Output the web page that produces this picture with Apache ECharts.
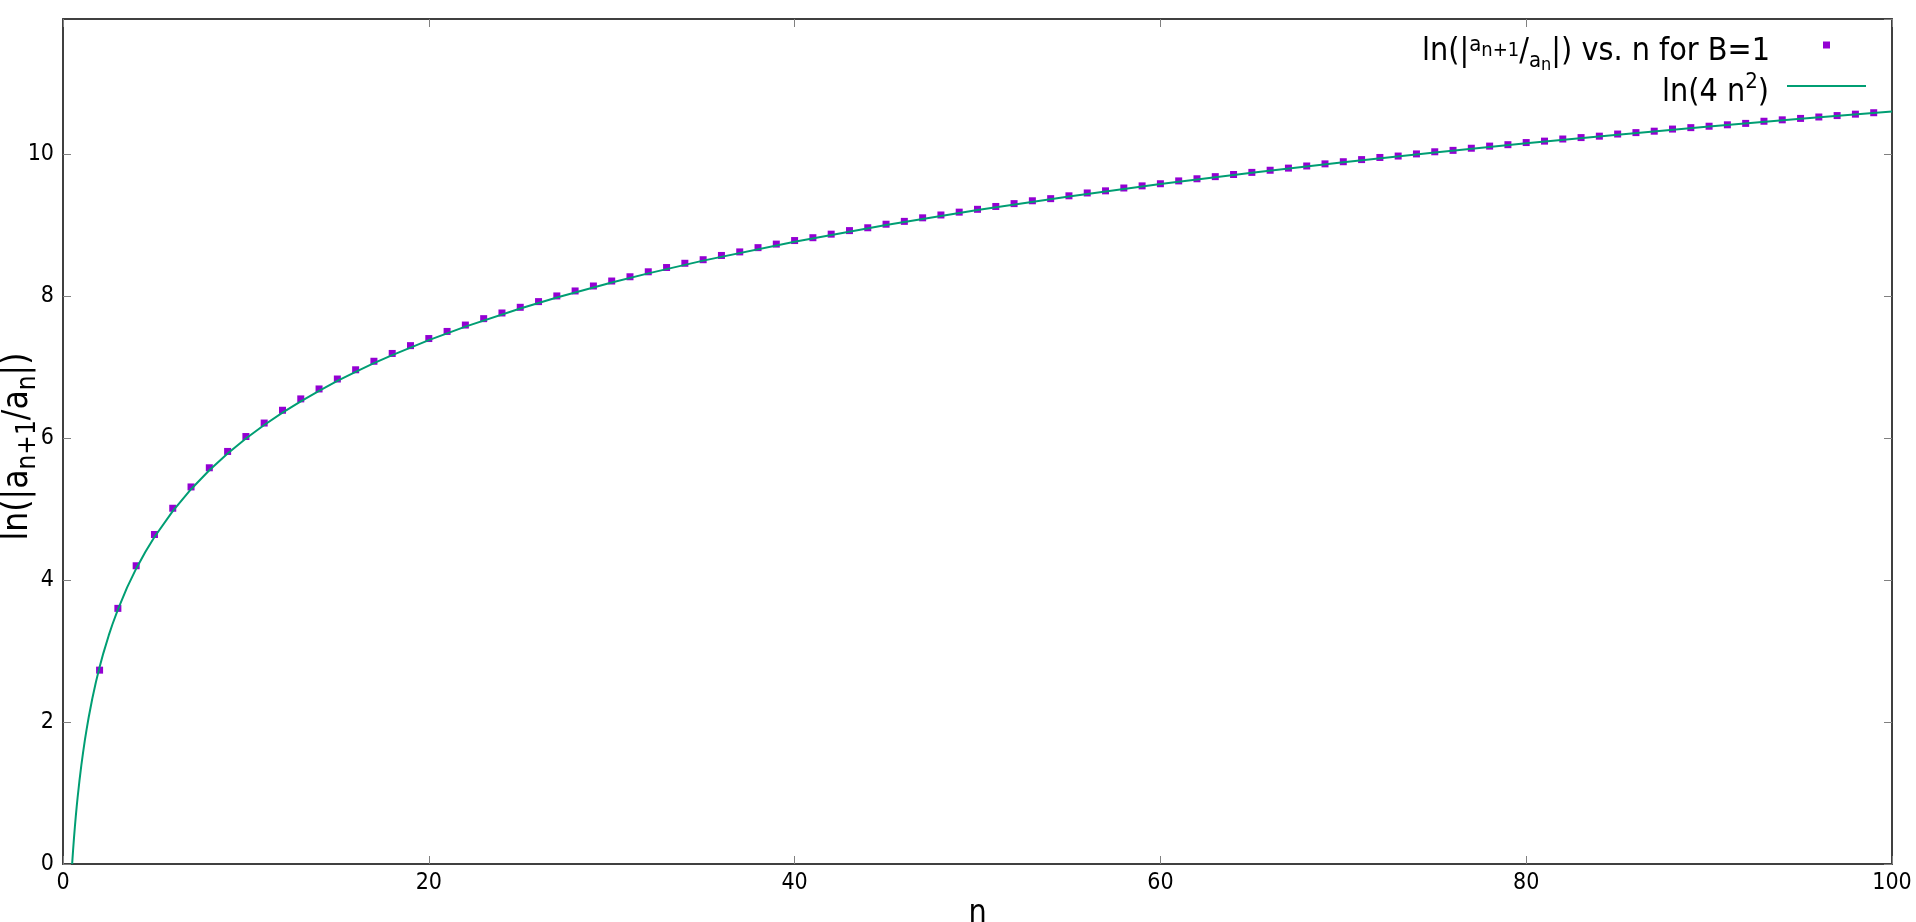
<!DOCTYPE html>
<html>
<head>
<meta charset="utf-8">
<script src="https://cdn.jsdelivr.net/npm/echarts@6/dist/echarts.min.js"></script>
<style>
html,body{margin:0;padding:0;background:#fff;}
#chart{width:1916px;height:922px;}
</style>
</head>
<body>
<div id="chart"></div>
<script>
// ---- data ----
const nValues = [2,3,4,5,6,7,8,9,10,11,12,13,14,15,16,17,18,19,20,21,22,23,24,25,26,27,28,29,30,31,32,33,34,35,36,37,38,39,40,41,42,43,44,45,46,47,48,49,50,51,52,53,54,55,56,57,58,59,60,61,62,63,64,65,66,67,68,69,70,71,72,73,74,75,76,77,78,79,80,81,82,83,84,85,86,87,88,89,90,91,92,93,94,95,96,97,98,99];
const lnRatio = [2.73,3.60,4.20,4.64,5.01,5.31,5.58,5.81,6.02,6.21,6.39,6.55,6.69,6.83,6.96,7.08,7.19,7.30,7.40,7.50,7.59,7.68,7.76,7.84,7.92,8.00,8.07,8.14,8.21,8.27,8.34,8.40,8.46,8.51,8.57,8.62,8.68,8.73,8.78,8.82,8.87,8.92,8.96,9.01,9.05,9.10,9.14,9.18,9.22,9.26,9.30,9.34,9.37,9.41,9.45,9.48,9.52,9.55,9.58,9.62,9.65,9.68,9.71,9.74,9.77,9.80,9.83,9.86,9.89,9.92,9.95,9.97,10.00,10.03,10.05,10.08,10.11,10.13,10.16,10.18,10.21,10.23,10.25,10.28,10.30,10.32,10.35,10.37,10.39,10.41,10.43,10.46,10.48,10.50,10.52,10.54,10.56,10.58];
const curveN = [0.5,0.52,0.55,0.6,0.65,0.7,0.75,0.8,0.9,1,1.1,1.2,1.3,1.4,1.6,1.8,2,2.2,2.5,2.7,3,3.5,4,4.5,5,6,7,8,9,10,11,12,13,14,15,16,17,18,20,22,25,27,30,32,35,40,45,50,55,60,65,70,75,80,85,90,95,100];
const curveY = [0,0.0784,0.1906,0.3646,0.5247,0.6730,0.8109,0.9400,1.1756,1.3863,1.5769,1.7509,1.9110,2.0592,2.3263,2.5619,2.7726,2.9632,3.2189,3.3728,3.5835,3.8918,4.1589,4.3945,4.6052,4.9698,5.2781,5.5452,5.7807,5.9915,6.1821,6.3561,6.5162,6.6644,6.8024,6.9315,7.0527,7.1670,7.3778,7.5684,7.8240,7.9780,8.1887,8.3178,8.4970,8.7641,8.9997,9.2103,9.4009,9.5749,9.7351,9.8833,10.0213,10.1503,10.2716,10.3859,10.4941,10.5966];
const xTicks = {min: 0, max: 100, interval: 20};
const yTicks = {min: 0, max: 11.9, interval: 2};
const seriesNames = ['ratio', 'curve'];

// ---- chart ----
const FONT = "'DejaVu Sans Condensed', 'DejaVu Sans', sans-serif";
const AXIS_COLOR = '#404040';
const TICK_COLOR = '#808080';

const chart = echarts.init(document.getElementById('chart'), null, {renderer: 'canvas'});

const pointsData = nValues.map((n, i) => [n, lnRatio[i]]);
const curveData = curveN.map((n, i) => [n, curveY[i]]);

function tok(size, pad, va) {
  return {fontSize: size, lineHeight: size, fontFamily: FONT, color: '#000', verticalAlign: va || 'bottom', padding: pad};
}

const axisCommon = {
  axisLine: {show: true, onZero: false, lineStyle: {color: AXIS_COLOR, width: 2}},
  axisTick: {show: true, inside: true, length: 8, lineStyle: {color: TICK_COLOR, width: 1}},
  splitLine: {show: false}
};

const option = {
  backgroundColor: '#fff',
  animation: false,
  grid: {left: 63, right: 24, top: 19, bottom: 58, containLabel: false, outerBoundsMode: 'none'},
  legend: [
    {
      data: [seriesNames[0]],
      right: 81, top: 24,
      orient: 'vertical', align: 'right',
      itemWidth: 7, itemHeight: 7,
      selectedMode: false,
      formatter: () => '{b|ln(|}{supA|a}{supN|n+1}{b|/}{subA|a}{subN|n}{bEnd||) vs. n for B=1}',
      textStyle: {
        rich: {
          b: tok(32, [7, 0, 0, 0], 'top'),
          supA: tok(22, [0, 0, 5, 0]),
          supN: tok(20, [0, 0, 0, 0]),
          subA: tok(22, [21, 0, 0, 0], 'top'),
          subN: tok(18, [27, 0, 0, 0], 'top'),
          bEnd: tok(32, [7, 48, 0, 0], 'top')
        }
      }
    },
    {
      data: [{name: seriesNames[1], icon: 'rect'}],
      right: 45, top: 65,
      orient: 'vertical', align: 'right',
      itemWidth: 79, itemHeight: 2,
      selectedMode: false,
      formatter: () => '{b|ln(4 n}{sup|2}{bEnd|)}',
      textStyle: {
        rich: {
          b: tok(32, [7, 0, 0, 0], 'top'),
          sup: tok(22, [0, 0, 9, 0]),
          bEnd: tok(32, [7, 13, 0, 0], 'top')
        }
      }
    }
  ],
  xAxis: [
    Object.assign({
      type: 'value', position: 'bottom',
      min: xTicks.min, max: xTicks.max, interval: xTicks.interval,
      name: 'n', nameLocation: 'middle', nameGap: 34, nameMoveOverlap: false,
      nameTextStyle: {fontSize: 32, fontFamily: FONT, color: '#000'},
      axisLabel: {show: true, margin: 8, fontSize: 23, fontFamily: FONT, color: '#000'}
    }, axisCommon),
    Object.assign({
      type: 'value', position: 'top',
      min: xTicks.min, max: xTicks.max, interval: xTicks.interval,
      axisLabel: {show: false}
    }, axisCommon)
  ],
  yAxis: [
    Object.assign({
      type: 'value', position: 'left',
      min: yTicks.min, max: yTicks.max, interval: yTicks.interval,
      name: '{b|ln(|a}{s|n+1}{b|/a}{s|n}{e||)}',
      nameLocation: 'middle', nameGap: 20, nameRotate: 90, nameMoveOverlap: false,
      nameTextStyle: {
        fontSize: 35, fontFamily: FONT, color: '#000',
        rich: {
          b: tok(35, [0, 0, 8, 0]),
          s: tok(26, [0, 0, 2, 0]),
          e: tok(35, [0, 10, 8, 0])
        }
      },
      axisLabel: {show: true, margin: 9, fontSize: 23, fontFamily: FONT, color: '#000', showMaxLabel: false}
    }, axisCommon),
    Object.assign({
      type: 'value', position: 'right',
      min: yTicks.min, max: yTicks.max, interval: yTicks.interval,
      axisLabel: {show: false}
    }, axisCommon)
  ],
  series: [
    {
      name: seriesNames[0],
      type: 'scatter',
      xAxisIndex: 0, yAxisIndex: 0,
      symbol: 'rect', symbolSize: 7,
      itemStyle: {color: '#9400D3', opacity: 1},
      data: pointsData,
      z: 2
    },
    {
      name: seriesNames[1],
      type: 'line',
      xAxisIndex: 0, yAxisIndex: 0,
      showSymbol: false, symbol: 'none',
      lineStyle: {color: '#009E73', width: 2},
      itemStyle: {color: '#009E73'},
      data: curveData,
      clip: true,
      z: 3
    }
  ]
};
chart.setOption(option);
</script>
</body>
</html>
